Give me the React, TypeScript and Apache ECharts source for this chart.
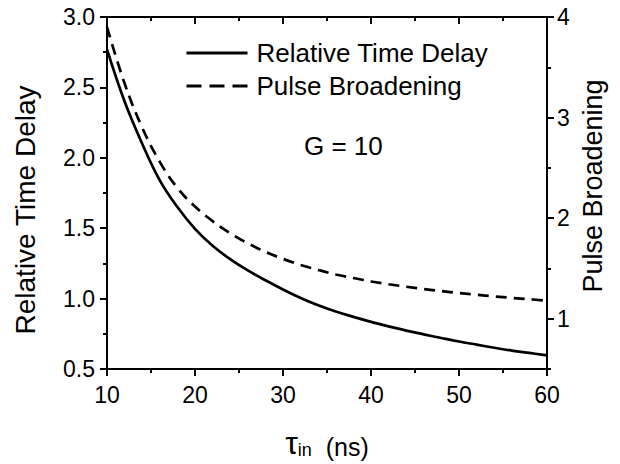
import React, { useEffect, useRef } from "react";
import * as echarts from "echarts";

const tauIn = [10, 12, 14, 16, 18, 20, 22, 24, 26, 28, 30, 32, 34, 36, 38, 40, 42, 44, 46, 48, 50, 52, 54, 56, 58, 60];
const relativeTimeDelay = [2.77, 2.4, 2.1, 1.84, 1.65, 1.495, 1.375, 1.28, 1.2, 1.13, 1.065, 1.005, 0.953, 0.908, 0.87, 0.835, 0.803, 0.773, 0.746, 0.72, 0.695, 0.673, 0.651, 0.631, 0.614, 0.597];
const pulseBroadening = [3.9, 3.34, 2.9, 2.56, 2.3, 2.115, 1.97, 1.85, 1.75, 1.665, 1.595, 1.535, 1.485, 1.44, 1.405, 1.37, 1.343, 1.318, 1.295, 1.275, 1.255, 1.238, 1.222, 1.207, 1.193, 1.18];
const rightMajorTicks = [1, 2, 3, 4];
const seriesNames = ["Relative Time Delay", "Pulse Broadening"];
const leftTitle = "Relative Time Delay";
const rightTitle = "Pulse Broadening";
const annotation = "G = 10";

const FONT = "Liberation Sans, Arial, Helvetica, sans-serif";

export default function App() {
  const ref = useRef<HTMLDivElement>(null);
  useEffect(() => {
    if (!ref.current) return;
    const chart = echarts.init(ref.current, null, { renderer: "svg" });
    const axisLine = { show: true, lineStyle: { color: "#000", width: 2 } };
    const labelStyle = { color: "#000", fontSize: 23, fontFamily: FONT };
    chart.setOption({
      animation: false,
      backgroundColor: "#fff",
      textStyle: { fontFamily: FONT },
      grid: { left: 107, right: 73, top: 17, bottom: 90, containLabel: false },
      legend: {
        orient: "vertical",
        left: 180,
        top: 35,
        itemWidth: 61,
        itemHeight: 14,
        itemGap: 7,
        itemStyle: { opacity: 0 },
        lineStyle: { width: 3 },
        textStyle: { color: "#000", fontSize: 26, fontFamily: FONT, lineHeight: 26, padding: [0, 0, 0, 4] },
        data: [
          { name: seriesNames[0], lineStyle: { width: 3, type: "solid" } },
          { name: seriesNames[1], lineStyle: { width: 3, type: [15, 8] } },
        ],
      },
      graphic: [
        {
          type: "text",
          left: 304,
          top: 133,
          style: { text: annotation, fill: "#000", fontSize: 26, fontFamily: FONT },
        },
        {
          type: "text",
          x: 25,
          y: 210,
          rotation: Math.PI / 2,
          style: { text: leftTitle, fill: "#000", fontSize: 28, fontFamily: FONT, align: "center", verticalAlign: "middle" },
        },
        {
          type: "text",
          x: 593,
          y: 186,
          rotation: Math.PI / 2,
          style: { text: rightTitle, fill: "#000", fontSize: 27, fontFamily: FONT, align: "center", verticalAlign: "middle" },
        },
      ],
      xAxis: [
        {
          type: "value",
          min: 10,
          max: 60,
          interval: 10,
          position: "bottom",
          axisLine,
          axisTick: { show: true, inside: false, length: 7, lineStyle: { color: "#000", width: 2 } },
          minorTick: { show: true, splitNumber: 2, length: 4, lineStyle: { color: "#000", width: 2 } },
          splitLine: { show: false },
          axisLabel: { ...labelStyle, margin: 14 },
          name: "{t|τ}{s|in}{n|  (ns)}",
          nameLocation: "middle",
          nameGap: 50,
          nameTextStyle: {
            color: "#000",
            fontFamily: FONT,
            rich: {
              t: { fontSize: 32, fontFamily: FONT, color: "#000", verticalAlign: "bottom" },
              s: { fontSize: 18, fontFamily: FONT, color: "#000", verticalAlign: "bottom", padding: [22, 0, 0, 0] },
              n: { fontSize: 25, fontFamily: FONT, color: "#000", verticalAlign: "bottom" },
            },
          },
        },
        {
          type: "value",
          min: 10,
          max: 60,
          interval: 10,
          position: "top",
          axisLine,
          axisTick: { show: true, inside: true, length: 7, lineStyle: { color: "#000", width: 2 } },
          minorTick: { show: true, splitNumber: 2, length: 4, lineStyle: { color: "#000", width: 2 } },
          splitLine: { show: false },
          axisLabel: { show: false },
        },
      ],
      yAxis: [
        {
          type: "value",
          min: 0.5,
          max: 3.0,
          interval: 0.5,
          position: "left",
          axisLine,
          axisTick: { show: true, inside: false, length: 7, lineStyle: { color: "#000", width: 2 } },
          minorTick: { show: true, splitNumber: 2, length: 4, lineStyle: { color: "#000", width: 2 } },
          splitLine: { show: false },
          axisLabel: { ...labelStyle, margin: 12, formatter: (v: number) => v.toFixed(1) },
        },
        {
          type: "value",
          min: 0.5,
          max: 4,
          interval: 0.5,
          position: "right",
          axisLine,
          axisTick: { show: true, inside: false, length: 7, customValues: rightMajorTicks, lineStyle: { color: "#000", width: 2 } },
          splitLine: { show: false },
          axisLabel: { ...labelStyle, margin: 10, customValues: rightMajorTicks, formatter: (v: number) => (v % 1 === 0 ? String(v) : "") },
        },
        {
          type: "value",
          min: 0.5,
          max: 4,
          interval: 0.5,
          position: "right",
          axisLine: { show: false },
          axisTick: { show: true, inside: false, length: 4, lineStyle: { color: "#000", width: 2 } },
          splitLine: { show: false },
          axisLabel: { show: false },
        },
      ],
      series: [
        {
          name: seriesNames[0],
          type: "line",
          xAxisIndex: 0,
          yAxisIndex: 0,
          data: tauIn.map((x, i) => [x, relativeTimeDelay[i]]),
          showSymbol: false,
          symbol: "none",
          smooth: 0.4,
          lineStyle: { color: "#000", width: 2.7, type: "solid" },
          itemStyle: { color: "#000" },
        },
        {
          name: seriesNames[1],
          type: "line",
          xAxisIndex: 0,
          yAxisIndex: 1,
          data: tauIn.map((x, i) => [x, pulseBroadening[i]]),
          showSymbol: false,
          symbol: "none",
          smooth: 0.4,
          lineStyle: { color: "#000", width: 2.7, type: [11, 7] },
          itemStyle: { color: "#000" },
        },
      ],
    });
    return () => chart.dispose();
  }, []);
  return <div ref={ref} style={{ width: 620, height: 464, position: "absolute", left: 0, top: 0 }} />;
}
